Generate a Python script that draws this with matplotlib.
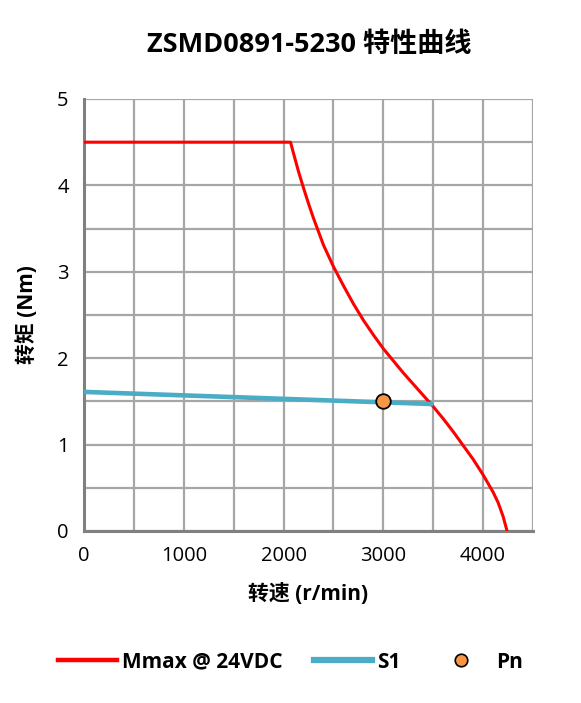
import matplotlib
matplotlib.use("Agg")
import matplotlib.pyplot as plt
from matplotlib.lines import Line2D

plt.rcParams['font.family'] = ['Open Sans', 'Noto Sans CJK SC', 'DejaVu Sans']

# Mmax @ 24VDC (r/min, Nm)
mmax_speed = [0, 2070, 2100, 2150, 2200, 2250, 2300, 2400, 2500, 2600, 2700,
              2800, 2900, 3000, 3100, 3200, 3300, 3400, 3500, 3600, 3700,
              3800, 3900, 4000, 4100, 4150, 4200, 4240]
mmax_torque = [4.5, 4.5, 4.37, 4.16, 3.97, 3.79, 3.62, 3.31, 3.06, 2.84, 2.63,
               2.44, 2.27, 2.11, 1.97, 1.83, 1.70, 1.57, 1.44, 1.30, 1.15,
               0.99, 0.83, 0.65, 0.45, 0.33, 0.17, 0.0]
# S1 continuous
s1_speed = [0, 3477]
s1_torque = [1.61, 1.47]
# rated point
pn_speed = [3000]
pn_torque = [1.50]

RED = "#ff0000"
BLUE = "#4bacc6"
ORANGE = "#f79646"

fig = plt.figure(figsize=(5.81, 7.03), dpi=100)
ax = fig.add_axes([84 / 581, 1 - 531 / 703, (533 - 84) / 581, (531 - 99) / 703])

ax.plot(mmax_speed, mmax_torque, color=RED, lw=2.2, zorder=3,
        solid_joinstyle="round")
ax.plot(s1_speed, s1_torque, color=BLUE, lw=3.3, zorder=4)
ax.scatter(pn_speed, pn_torque, s=110, color=ORANGE, edgecolor="black", lw=1.3, zorder=5)

ax.set_xlim(0, 4500)
ax.set_ylim(0, 5)
ax.set_xticks(range(0, 4501, 500))
ax.set_xticklabels(["0", "", "1000", "", "2000", "", "3000", "", "4000", ""])
ax.set_yticks([i * 0.5 for i in range(11)])
ax.set_yticklabels(["0", "", "1", "", "2", "", "3", "", "4", "", "5"])
ax.grid(True, color="#a6a6a6", lw=1.6, zorder=0)
ax.tick_params(length=0, labelsize=14.5, pad=11)
for s in ("top", "right"):
    ax.spines[s].set_visible(False)
for s in ("left", "bottom"):
    ax.spines[s].set_color("#808080")
    ax.spines[s].set_linewidth(2.2)
ax.set_axisbelow(True)

ax.set_xlabel("转速 (r/min)", fontsize=15, fontweight="bold", labelpad=12)
ax.set_ylabel("转矩 (Nm)", fontsize=15, fontweight="bold", labelpad=14)
fig.text(309 / 581, 1 - 45 / 703, "ZSMD0891-5230 特性曲线", ha="center", va="center",
         fontsize=19.5, fontweight="bold")

handles = [
    Line2D([], [], color=RED, lw=3.2),
    Line2D([], [], color=BLUE, lw=4.5),
    Line2D([], [], color=ORANGE, marker="o", ls="none", markersize=9,
           markeredgecolor="black", markeredgewidth=1.2),
]
fig.legend(handles, ["Mmax @ 24VDC", "S1", "Pn"], loc="center",
           bbox_to_anchor=(0.5, 1 - 662 / 703), ncol=3, frameon=False,
           prop={"size": 15, "weight": "bold"}, handlelength=2.8,
           handletextpad=0.25, columnspacing=1.5)

fig.savefig("out.png", dpi=100)
